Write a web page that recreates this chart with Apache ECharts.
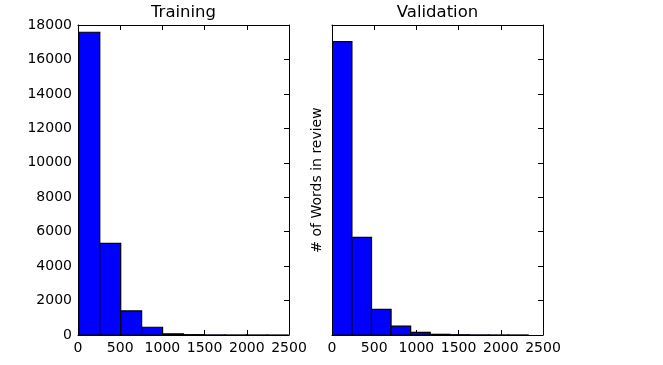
<!DOCTYPE html>
<html>
<head>
<meta charset="utf-8">
<script src="https://cdn.jsdelivr.net/npm/echarts@6/dist/echarts.min.js"></script>
<style>html,body{margin:0;padding:0;background:#fff}#c{width:663px;height:365px}</style>
</head>
<body>
<div id="c"></div>
<script>
// Training histogram: bin start, bin width, counts
const trainStart = 10;
const trainWidth = 248;
const trainCounts = [17580, 5320, 1400, 450, 70, 20, 6, 3, 2, 1];
// Validation histogram
const valStart = 4;
const valWidth = 232;
const valCounts = [17030, 5670, 1490, 520, 155, 40, 15, 6, 3, 2];

const titles = ['Training', 'Validation'];
const yLabel = '# of Words in review';
const xTicks = [0, 500, 1000, 1500, 2000, 2500];
const yTicks = [0, 2000, 4000, 6000, 8000, 10000, 12000, 14000, 16000, 18000];

function bins(start, width, counts) {
  return counts.map((c, i) => [start + i * width, start + (i + 1) * width, c]);
}

const FONT = 'DejaVu Sans';
const TICK_FS = 14;
const grids = [
  {left: 78, top: 25, width: 211, height: 310},
  {left: 332, top: 25, width: 211, height: 310}
];

function xAx(g, pos) {
  return {
    type: 'value', gridIndex: g, position: pos,
    min: xTicks[0], max: xTicks[xTicks.length - 1], interval: xTicks[1] - xTicks[0],
    splitLine: {show: false},
    axisLine: {show: true, onZero: false, lineStyle: {color: '#000', width: 1}},
    axisTick: {show: true, inside: true, length: 5, lineStyle: {color: '#000'}},
    axisLabel: {show: pos === 'bottom', color: '#000', fontSize: TICK_FS, fontFamily: FONT, margin: 6,
      formatter: v => String(v)}
  };
}
function yAx(g, pos, showLabel, name) {
  const a = {
    type: 'value', gridIndex: g, position: pos,
    min: yTicks[0], max: yTicks[yTicks.length - 1], interval: yTicks[1] - yTicks[0],
    splitLine: {show: false},
    axisLine: {show: true, onZero: false, lineStyle: {color: '#000', width: 1}},
    axisTick: {show: true, inside: true, length: 5, lineStyle: {color: '#000'}},
    axisLabel: {show: showLabel, color: '#000', fontSize: TICK_FS, fontFamily: FONT, margin: 6,
      formatter: v => String(v)}
  };
  if (name) {
    a.name = name; a.nameLocation = 'middle'; a.nameGap = 8; a.nameRotate = 90;
    a.nameTextStyle = {color: '#000', fontSize: TICK_FS, fontFamily: FONT};
  }
  return a;
}

function renderHist(params, api) {
  const p0 = api.coord([api.value(0), 0]);
  const p1 = api.coord([api.value(1), api.value(2)]);
  return {
    type: 'rect',
    shape: {x: p0[0], y: p1[1], width: p1[0] - p0[0], height: p0[1] - p1[1]},
    style: {fill: '#0000ff', stroke: '#000', lineWidth: 1.2}
  };
}

const chart = echarts.init(document.getElementById('c'), null, {renderer: 'canvas'});
chart.setOption({
  animation: false,
  backgroundColor: '#fff',
  grid: grids,
  xAxis: [xAx(0, 'bottom'), xAx(0, 'top'), xAx(1, 'bottom'), xAx(1, 'top')],
  yAxis: [yAx(0, 'left', true), yAx(0, 'right', false), yAx(1, 'left', false, yLabel), yAx(1, 'right', false)],
  graphic: [
    {type: 'text', x: 183.5, y: 13, style: {text: titles[0], textAlign: 'center', textVerticalAlign: 'middle', fontSize: 16.5, fontFamily: FONT, fill: '#000'}},
    {type: 'text', x: 437.5, y: 13, style: {text: titles[1], textAlign: 'center', textVerticalAlign: 'middle', fontSize: 16.5, fontFamily: FONT, fill: '#000'}}
  ],
  series: [
    {type: 'custom', xAxisIndex: 0, yAxisIndex: 0, renderItem: renderHist, data: bins(trainStart, trainWidth, trainCounts), encode: {x: [0, 1], y: 2}, clip: true},
    {type: 'custom', xAxisIndex: 2, yAxisIndex: 2, renderItem: renderHist, data: bins(valStart, valWidth, valCounts), encode: {x: [0, 1], y: 2}, clip: true}
  ]
});
</script>
</body>
</html>
